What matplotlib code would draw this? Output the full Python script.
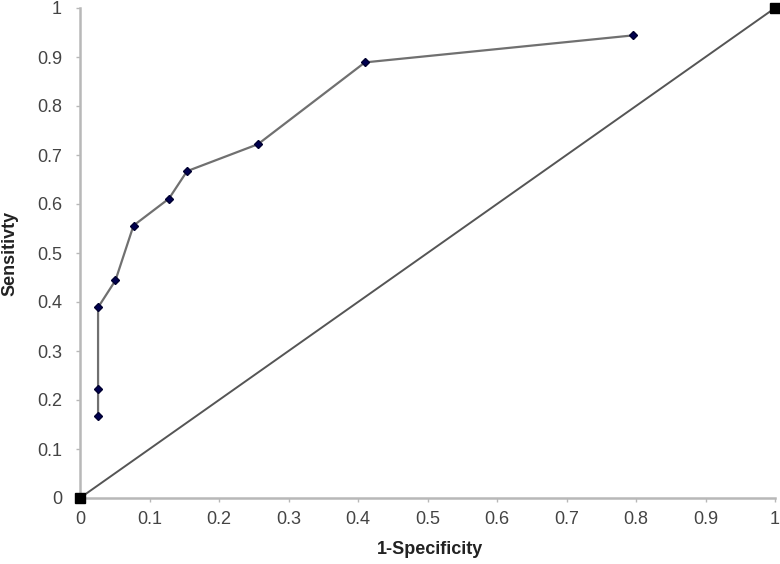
import numpy as np
import matplotlib.pyplot as plt

plt.rcParams['font.family'] = ['Liberation Sans', 'DejaVu Sans']

# ROC 曲线数据
fpr = [0.026, 0.026, 0.026, 0.051, 0.077, 0.128, 0.154, 0.256, 0.410, 0.795]
tpr = [0.167, 0.222, 0.389, 0.444, 0.556, 0.611, 0.667, 0.722, 0.889, 0.944]
ref_x = [0, 1]
ref_y = [0, 1]
ticks = [0, 0.1, 0.2, 0.3, 0.4, 0.5, 0.6, 0.7, 0.8, 0.9, 1]
tick_labels = ['0', '0.1', '0.2', '0.3', '0.4', '0.5', '0.6', '0.7', '0.8', '0.9', '1']

fig = plt.figure(figsize=(7.8, 5.64), dpi=100)
ax = fig.add_axes([80/780, 1-498/564, 695/780, 490/564])

ax.plot(ref_x, ref_y, '-', color='#555555', linewidth=1.4,
        marker='s', markersize=6.5, markerfacecolor='black',
        markeredgecolor='black', clip_on=False, zorder=3)
ax.plot(fpr, tpr, '-', color='#707070', linewidth=1.6,
        marker='D', markersize=4.5, markerfacecolor='#000050',
        markeredgecolor='#000030', clip_on=False, zorder=4)

ax.set_xlim(0, 1)
ax.set_ylim(0, 1)
ax.set_xticks(ticks)
ax.set_xticklabels(tick_labels)
ax.set_yticks(ticks)
ax.set_yticklabels(tick_labels)

for s in ['top', 'right']:
    ax.spines[s].set_visible(False)
for s in ['left', 'bottom']:
    ax.spines[s].set_color('#b8b8b8')
    ax.spines[s].set_linewidth(1.8)

ax.tick_params(axis='both', colors='#b8b8b8', labelcolor='#444444',
               length=3, width=1, labelsize=13)
ax.tick_params(axis='x', pad=6)
ax.tick_params(axis='y', pad=10)

fig.text(430/780, 1-550/564, '1-Specificity', ha='center', va='center',
         fontsize=13, fontweight='bold', color='#222222')
fig.text(10/780, 1-253/564, 'Sensitivty', ha='center', va='center',
         rotation=90, fontsize=13, fontweight='bold', color='#222222')

fig.savefig('out.png', dpi=100)
